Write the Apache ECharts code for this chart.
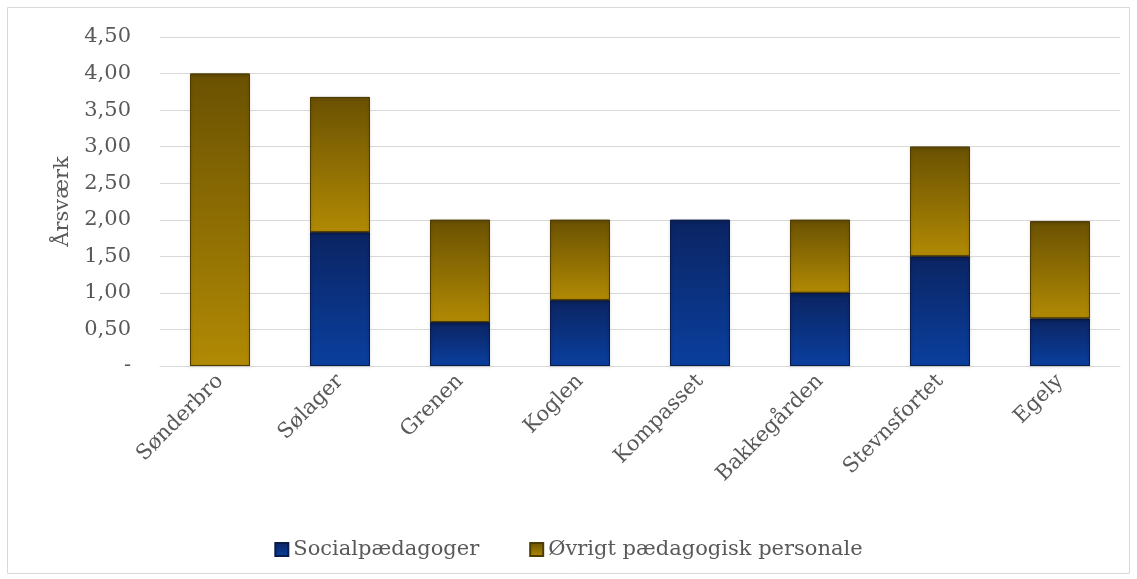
<!DOCTYPE html>
<html><head><meta charset="utf-8">
<script src="https://cdn.jsdelivr.net/npm/echarts@6/dist/echarts.min.js"></script>
<style>html,body{margin:0;padding:0;background:#fff}#c{width:1137px;height:579px}</style>
</head><body><div id="c"></div>
<script>
const categories = ['Sønderbro','Sølager','Grenen','Koglen','Kompasset','Bakkegården','Stevnsfortet','Egely'];
const socialpaedagoger = [0, 1.83, 0.60, 0.90, 2.00, 1.00, 1.50, 0.65];
const oevrigt = [4.00, 1.85, 1.40, 1.10, 0, 1.00, 1.50, 1.33];
const yTicks = [0, 0.5, 1, 1.5, 2, 2.5, 3, 3.5, 4, 4.5];

const FONT = '"DejaVu Serif", "Liberation Serif", serif';
const blueGrad = new echarts.graphic.LinearGradient(0,0,0,1,[{offset:0,color:'#0b2462'},{offset:1,color:'#0a3f9e'}]);
const goldGrad = new echarts.graphic.LinearGradient(0,0,0,1,[{offset:0,color:'#6a5102'},{offset:1,color:'#b18a04'}]);
const nz = arr => arr.map(v => v === 0 ? null : v);

const chart = echarts.init(document.getElementById('c'));
chart.setOption({
  backgroundColor: '#fff',
  graphic: [{type:'rect', shape:{x:7.5,y:7.5,width:1122,height:566}, style:{fill:'none',stroke:'#d9d9d9',lineWidth:1}}],
  grid: {left:160, right:17, top:37, bottom:213},
  legend: {
    bottom: 14, left: 'center', itemGap: 50, itemWidth: 13, itemHeight: 13,
    textStyle: {fontFamily: FONT, fontSize: 21, color: '#595959'},
    data: [{name:'Socialpædagoger', icon:'rect'}, {name:'Øvrigt pædagogisk personale', icon:'rect'}]
  },
  xAxis: {
    type: 'category', data: categories,
    axisLine: {lineStyle:{color:'#d9d9d9'}}, axisTick: {show:false},
    axisLabel: {rotate: 45, fontFamily: FONT, fontSize: 21, color:'#595959', margin: 12}
  },
  yAxis: {
    type: 'value', min: 0, max: 4.5, interval: 0.5,
    name: 'Årsværk', nameLocation: 'middle', nameGap: 86, nameRotate: 90,
    nameTextStyle: {fontFamily: FONT, fontSize: 21, color:'#595959'},
    axisLine: {show:false}, axisTick: {show:false},
    splitLine: {lineStyle:{color:'#d9d9d9'}},
    axisLabel: {fontFamily: FONT, fontSize: 21, color:'#595959', margin: 29,
      formatter: v => v === 0 ? '-' : v.toFixed(2).replace('.', ',')}
  },
  series: [
    {name:'Socialpædagoger', type:'bar', stack:'a', data: nz(socialpaedagoger), barWidth: 60,
     itemStyle:{color: blueGrad, borderColor:'#0a1c4a', borderWidth:1, shadowColor:'rgba(0,0,0,0.25)', shadowBlur:3, shadowOffsetY:1}},
    {name:'Øvrigt pædagogisk personale', type:'bar', stack:'a', data: nz(oevrigt), barWidth: 60,
     itemStyle:{color: goldGrad, borderColor:'#4e3c00', borderWidth:1, shadowColor:'rgba(0,0,0,0.25)', shadowBlur:3, shadowOffsetY:1}}
  ]
});
</script></body></html>
